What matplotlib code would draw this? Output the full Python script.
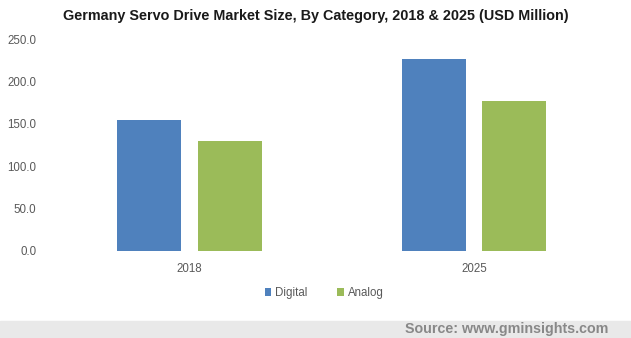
import numpy as np
import matplotlib
matplotlib.use("Agg")
import matplotlib.pyplot as plt
from matplotlib.patches import Rectangle

years = ["2018", "2025"]
digital = [154.5, 226.5]
analog = [129.5, 177.0]
y_ticks = [0, 50, 100, 150, 200, 250]

plt.rcParams["font.family"] = ["Liberation Sans", "DejaVu Sans"]

fig = plt.figure(figsize=(6.31, 3.38), dpi=100)
ax = fig.add_axes([0.0749, 0.2574, 0.9017, 0.6272])

x = np.arange(len(years))
w = 0.225
ax.bar(x - 0.142, digital, w, color="#4f81bd", label="Digital")
ax.bar(x + 0.142, analog, w, color="#9bbb59", label="Analog")

ax.set_xlim(-0.5, 1.5)
ax.set_ylim(0, 250)
ax.set_xticks(x)
ax.set_xticklabels(years)
ax.set_yticks(y_ticks)
ax.set_yticklabels([f"{v:.1f}" for v in y_ticks])
ax.tick_params(axis="both", length=0, labelsize=8.3, colors="#595959")
ax.tick_params(axis="x", pad=9)
ax.tick_params(axis="y", pad=8)
for s in ax.spines.values():
    s.set_visible(False)

fig.text(0.5, 0.952, "Germany Servo Drive Market Size, By Category, 2018 & 2025 (USD Million)",
         ha="center", va="center", fontsize=10.4, fontweight="bold", color="#1a1a1a")

fig.legend(loc="center", bbox_to_anchor=(324 / 631, 0.133), ncol=2, frameon=False,
           fontsize=8.3, handlelength=0.6, handleheight=0.6, handletextpad=0.3,
           columnspacing=2.6, labelcolor="#595959")

fig.patches.append(Rectangle((0, 0), 1, 17 / 338, transform=fig.transFigure,
                             color="#e9e9e9", zorder=0))
fig.text(0.964, 8.5 / 338, "Source: www.gminsights.com", ha="right", va="center",
         fontsize=10.3, fontweight="bold", color="#888888")

fig.savefig("out.png", dpi=100)
plt.close()
